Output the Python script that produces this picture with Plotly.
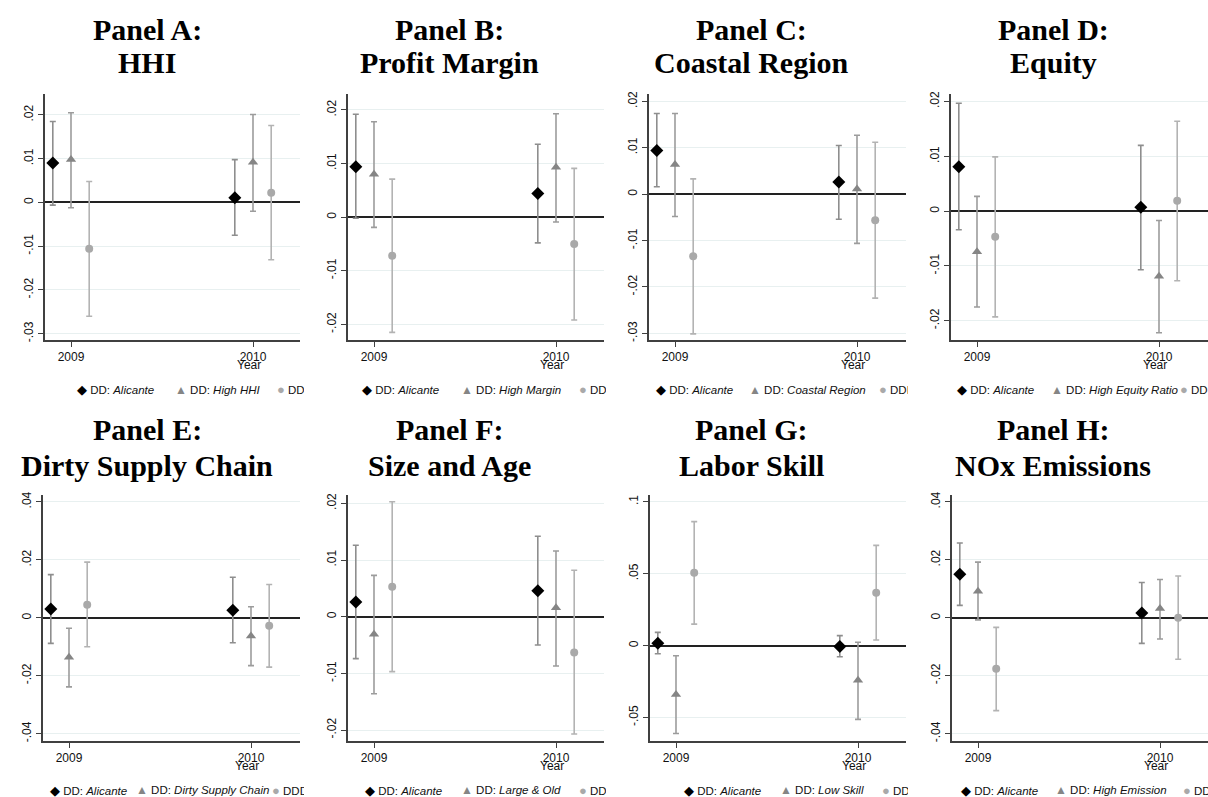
import plotly.graph_objects as go

W, H = 1208, 797

# ---------------- data ----------------
years = [2009, 2010]
panel_letters = ["A", "B", "C", "D", "E", "F", "G", "H"]
panel_names = ["HHI", "Profit Margin", "Coastal Region", "Equity",
               "Dirty Supply Chain", "Size and Age", "Labor Skill", "NOx Emissions"]
group_labels = ["High HHI", "High Margin", "Coastal Region", "High Equity Ratio",
                "Dirty Supply Chain", "Large & Old", "Low Skill", "High Emission"]

alicante_est = [[0.0090, 0.0011], [0.0094, 0.0044], [0.0094, 0.0026], [0.0081, 0.0007],
                [0.0030, 0.0026], [0.0026, 0.0046], [0.0016, -0.0007], [0.0150, 0.0017]]
alicante_lo = [[-0.0006, -0.0075], [-0.0002, -0.0048], [0.0016, -0.0054], [-0.0034, -0.0107],
               [-0.0088, -0.0086], [-0.0074, -0.0050], [-0.0057, -0.0078], [0.0043, -0.0088]]
alicante_hi = [[0.0185, 0.0098], [0.0192, 0.0136], [0.0174, 0.0105], [0.0197, 0.0120],
               [0.0149, 0.0140], [0.0126, 0.0142], [0.0092, 0.0069], [0.0258, 0.0122]]

group_est = [[0.0098, 0.0092], [0.0080, 0.0093], [0.0064, 0.0011], [-0.0074, -0.0119],
             [-0.0136, -0.0063], [-0.0031, 0.0016], [-0.0340, -0.0241], [0.0092, 0.0032]]
group_lo = [[-0.0012, -0.0020], [-0.0019, -0.0009], [-0.0048, -0.0106], [-0.0175, -0.0222],
            [-0.0238, -0.0165], [-0.0136, -0.0087], [-0.0611, -0.0513], [-0.0007, -0.0073]]
group_hi = [[0.0205, 0.0201], [0.0178, 0.0193], [0.0174, 0.0127], [0.0027, -0.0017],
            [-0.0036, 0.0038], [0.0073, 0.0116], [-0.0071, 0.0023], [0.0192, 0.0132]]

third_est = [[-0.0106, 0.0022], [-0.0072, -0.0050], [-0.0134, -0.0056], [-0.0047, 0.0019],
             [0.0045, -0.0027], [0.0053, -0.0063], [0.0506, 0.0368], [-0.0176, 0.0000]]
third_lo = [[-0.0260, -0.0131], [-0.0215, -0.0192], [-0.0301, -0.0224], [-0.0193, -0.0127],
            [-0.0100, -0.0170], [-0.0097, -0.0207], [0.0149, 0.0039], [-0.0320, -0.0143]]
third_hi = [[0.0048, 0.0176], [0.0071, 0.0091], [0.0033, 0.0112], [0.0099, 0.0164],
            [0.0192, 0.0115], [0.0203, 0.0082], [0.0862, 0.0697], [-0.0033, 0.0144]]

ytick_vals = [[-0.03, -0.02, -0.01, 0, 0.01, 0.02],
              [-0.02, -0.01, 0, 0.01, 0.02],
              [-0.03, -0.02, -0.01, 0, 0.01, 0.02],
              [-0.02, -0.01, 0, 0.01, 0.02],
              [-0.04, -0.02, 0, 0.02, 0.04],
              [-0.02, -0.01, 0, 0.01, 0.02],
              [-0.05, 0, 0.05, 0.1],
              [-0.04, -0.02, 0, 0.02, 0.04]]
y_ranges = [[-0.0314, 0.0247], [-0.0229, 0.0229], [-0.0314, 0.0215], [-0.0235, 0.0213],
            [-0.0426, 0.0424], [-0.0220, 0.0215], [-0.0666, 0.1048], [-0.0426, 0.0424]]

# ---------------- layout geometry (pixels) ----------------
panel_left = [0, 302, 604, 906, 0, 302, 604, 906]
plot_left = [45, 348, 649, 951, 43, 348, 650, 952]
plot_right = [300, 604, 906, 1208, 300, 604, 906, 1208]
row_top = [92, 495]
row_bot = [339, 743]
title_y = [(27, 60), (429, 465)]
legend_y = [389, 792]
tick_y_year = [364, 768]
legend_x = [(75, 173, 275), (360, 459, 577), (654, 747, 877), (955, 1049, 1178),
            (48, 134, 270), (363, 459, 577), (682, 778, 880), (959, 1053, 1181)]

px_per_year = 182.0
offset = 0.1

C_ALIC, C_GRP, C_THIRD = "#000000", "#858585", "#a9a9a9"
CI_ALIC, CI_GRP, CI_THIRD = "#8e8e8e", "#9c9c9c", "#b3b3b3"


def fmt(v):
    if v == 0:
        return "0"
    s = f"{v:g}"
    return s.replace("0.", ".")


def px_x(p):
    return p / W


def px_y(p):
    return 1 - p / H


fig = go.Figure()
annotations = []
layout_axes = {}

for i in range(8):
    row = 0 if i < 4 else 1
    ax = "" if i == 0 else str(i + 1)
    xref, yref = "x" + ax, "y" + ax
    width_px = plot_right[i] - plot_left[i]
    x0 = 2009 - 26 / px_per_year
    xr = [x0, x0 + width_px / px_per_year]

    series = [
        (alicante_est[i], alicante_lo[i], alicante_hi[i], -offset, "diamond", 10, C_ALIC, CI_ALIC),
        (group_est[i], group_lo[i], group_hi[i], 0.0, "triangle-up", 9, C_GRP, CI_GRP),
        (third_est[i], third_lo[i], third_hi[i], offset, "circle", 8, C_THIRD, CI_THIRD),
    ]
    for est, lo, hi, off, sym, sz, mc, cc in series:
        fig.add_trace(go.Scatter(
            x=[yv + off for yv in years], y=est, mode="markers",
            marker=dict(symbol=sym, size=sz, color=mc, line=dict(width=0)),
            error_y=dict(type="data", symmetric=False,
                         array=[h - e for h, e in zip(hi, est)],
                         arrayminus=[e - l for e, l in zip(est, lo)],
                         color=cc, thickness=1.6, width=3),
            xaxis=xref, yaxis=yref, showlegend=False, cliponaxis=False,
        ))

    layout_axes["xaxis" + ax] = dict(
        domain=[px_x(plot_left[i]), px_x(plot_right[i])], range=xr, anchor=yref,
        tickvals=years, ticktext=[str(y) for y in years], ticks="outside", ticklen=5,
        tickcolor="#404040", showgrid=False, zeroline=False, showline=True,
        linecolor="#404040", linewidth=1.5,
        tickfont=dict(family="Liberation Sans, Arial", size=12, color="#111"),
    )
    layout_axes["yaxis" + ax] = dict(
        domain=[px_y(row_bot[row]), px_y(row_top[row])], range=y_ranges[i], anchor=xref,
        tickvals=ytick_vals[i], ticktext=[fmt(v) for v in ytick_vals[i]], tickangle=-90,
        ticks="outside", ticklen=5, tickcolor="#404040", showgrid=True,
        gridcolor="#e8f0f0", gridwidth=1, zeroline=True, zerolinecolor="#222",
        zerolinewidth=1.5, showline=True, linecolor="#404040", linewidth=1.5,
        tickfont=dict(family="Liberation Sans, Arial", size=12, color="#111"),
    )

    # titles
    cx = px_x(panel_left[i] + 147)
    tfont = dict(family="Liberation Serif, Times New Roman", size=30, color="#000")
    annotations.append(dict(text=f"<b>Panel {panel_letters[i]}:</b>", x=cx, y=px_y(title_y[row][0]),
                            xref="paper", yref="paper", showarrow=False, xanchor="center",
                            yanchor="middle", font=tfont))
    annotations.append(dict(text=f"<b>{panel_names[i]}</b>", x=cx, y=px_y(title_y[row][1]),
                            xref="paper", yref="paper", showarrow=False, xanchor="center",
                            yanchor="middle", font=tfont))
    # axis title "Year"
    annotations.append(dict(text="Year", x=2010 - 0.02, y=px_y(tick_y_year[row]), xref=xref,
                            yref="paper", showarrow=False, xanchor="center", yanchor="middle",
                            font=dict(family="Liberation Sans, Arial", size=12, color="#111")))
    # legend entries
    lf = dict(family="Liberation Sans, Arial", size=11.5, color="#111")
    lx = legend_x[i]
    ly = px_y(legend_y[row])
    annotations.append(dict(text=f"<span style='color:{C_ALIC};font-size:13px'>◆</span> DD: <i>Alicante</i>",
                            x=px_x(lx[0]), y=ly, xref="paper", yref="paper",
                            showarrow=False, xanchor="left", yanchor="middle", font=lf))
    annotations.append(dict(text=f"<span style='color:{C_GRP};font-size:12px'>▲</span> DD: <i>{group_labels[i]}</i>",
                            x=px_x(lx[1]), y=ly, xref="paper", yref="paper",
                            showarrow=False, xanchor="left", yanchor="middle", font=lf))
    clip_w = panel_left[i] + 302 - lx[2]
    annotations.append(dict(text=f"<span style='color:{C_THIRD};font-size:13px'>●</span> DDD: <i>{group_labels[i]}</i>",
                            x=px_x(lx[2]), y=ly, xref="paper", yref="paper",
                            showarrow=False, xanchor="left", yanchor="middle", align="left",
                            width=clip_w, font=lf))

fig.update_layout(
    width=W, height=H, margin=dict(l=0, r=0, t=0, b=0),
    paper_bgcolor="white", plot_bgcolor="white",
    annotations=annotations, showlegend=False,
    **layout_axes,
)

fig.write_html("out.html", config={"displayModeBar": False},
               post_script="document.body.style.margin='0px';document.body.style.overflow='hidden';")
